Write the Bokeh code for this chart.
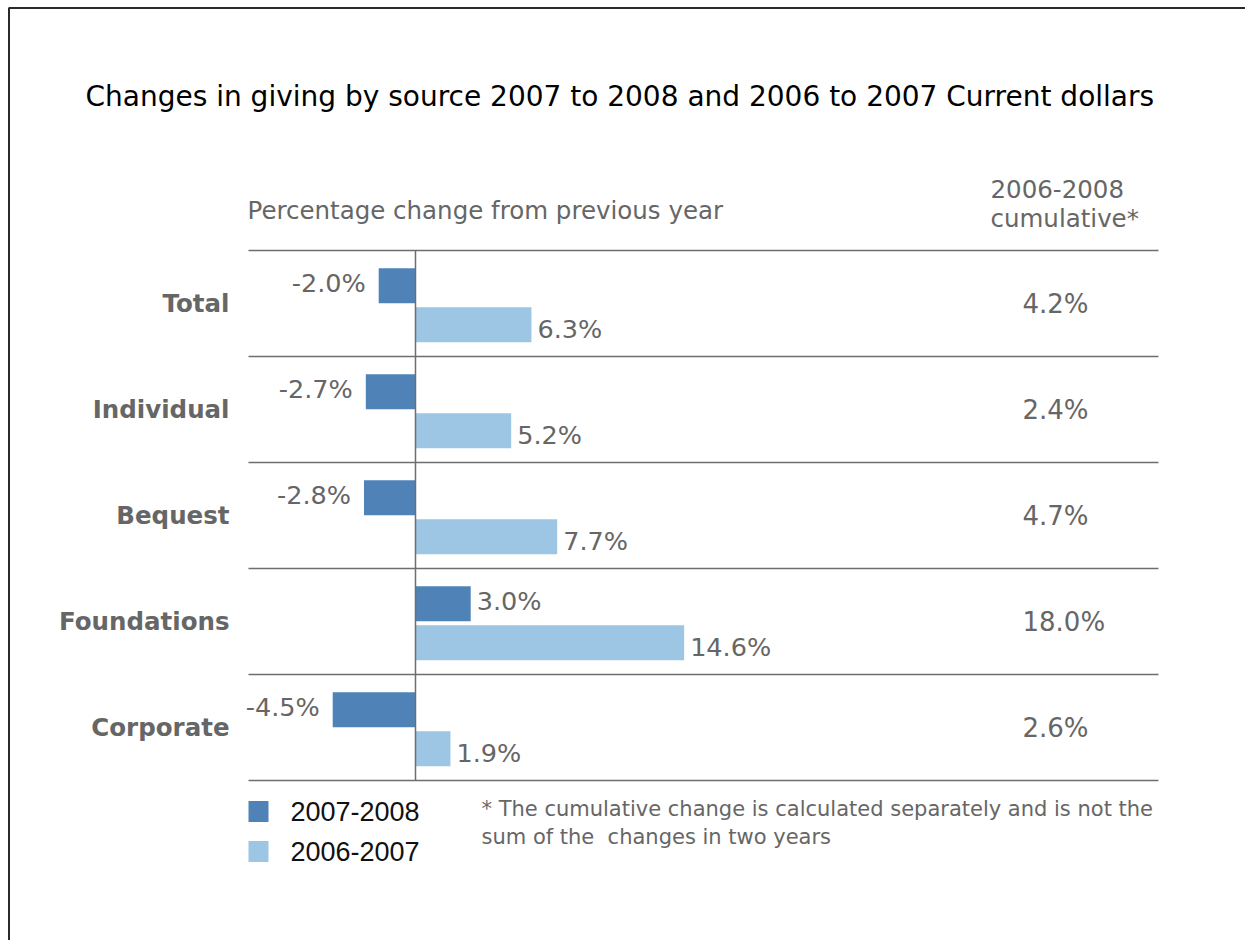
from bokeh.plotting import figure
from bokeh.models import Range1d, ColumnDataSource
from bokeh.embed import file_html
from bokeh.resources import INLINE
from bokeh.core.properties import value
import numpy as np

# ---- data ----
categories = ["Total", "Individual", "Bequest", "Foundations", "Corporate"]
change_2007_2008 = [-2.0, -2.7, -2.8, 3.0, -4.5]
change_2006_2007 = [6.3, 5.2, 7.7, 14.6, 1.9]
cumulative_2006_2008 = [4.2, 2.4, 4.7, 18.0, 2.6]
series_names = ["2007-2008", "2006-2007"]

title = "Changes in giving by source 2007 to 2008 and 2006 to 2007 Current dollars"
subtitle = "Percentage change from previous year"
cum_header = ["2006-2008", "cumulative*"]
footnote = ["* The cumulative change is calculated separately and is not the",
            "sum of the\u00a0 changes in two years"]

DARK = "#4f83b8"
LIGHT = "#9cc6e4"
GRAY = "#666666"
LINE = "#6e6e6e"
FONT = "DejaVu Sans"

W, H = 1245, 940
ZERO_PX, PX_PER_PCT = 415.0, 18.4
ROW0_PX, ROW_PX = 303.0, 106.0


def fx(px):
    return (px - ZERO_PX) / PX_PER_PCT


def fy(py):
    return (py - ROW0_PX) / ROW_PX


p = figure(width=W, height=H, output_backend="svg", toolbar_location=None,
           x_range=Range1d(fx(0), fx(W)), y_range=Range1d(fy(H), fy(0)),
           min_border=0)
p.axis.visible = False
p.grid.visible = False
p.outline_line_color = None
p.background_fill_color = "white"
p.border_fill_color = "white"

# frame border (partially cut off)
p.line(x=[fx(8.5), fx(8.5), fx(1260)], y=[fy(960), fy(7.5), fy(7.5)],
       line_color="#2a2a2a", line_width=2)

n = len(categories)
rows = np.arange(n)
d_off, l_off, bh = -0.168, 0.2, 0.33

src = ColumnDataSource(dict(
    row=rows, cat=categories,
    v1=change_2007_2008, v2=change_2006_2007, cum=cumulative_2006_2008,
    y1=rows + d_off, y2=rows + l_off,
    lab1=["%.1f%%" % v for v in change_2007_2008],
    lab2=["%.1f%%" % v for v in change_2006_2007],
    labc=["%.1f%%" % v for v in cumulative_2006_2008],
    al1=["right" if v < 0 else "left" for v in change_2007_2008],
    xo1=[-13 if v < 0 else 6 for v in change_2007_2008],
))

# separators
sep_y = np.arange(n + 1) - 0.5
p.multi_line(xs=[[fx(248), fx(1158)]] * (n + 1), ys=[[y, y] for y in sep_y],
             line_color=LINE, line_width=1.5)

# bars
p.hbar(y="y1", left=0, right="v1", height=bh, source=src, fill_color=DARK, line_color=None)
p.hbar(y="y2", left=0, right="v2", height=bh, source=src, fill_color=LIGHT, line_color=None)

# zero line
p.line(x=[0, 0], y=[sep_y[0], sep_y[-1]], line_color=LINE, line_width=1.5)

# value labels
p.text(x="v1", y="y1", text="lab1", source=src, text_align="al1", x_offset="xo1",
       y_offset=-3, text_baseline="middle", text_color=GRAY,
       text_font=value(FONT), text_font_size="25.5px")
p.text(x="v2", y="y2", text="lab2", source=src, text_align="left", x_offset=6,
       y_offset=4, text_baseline="middle", text_color=GRAY,
       text_font=value(FONT), text_font_size="25.5px")

# category labels
p.text(x=fx(229), y="row", text="cat", source=src, text_align="right",
       text_baseline="middle", text_color=GRAY, text_font_style="bold",
       text_font=value(FONT), text_font_size="24.5px")

# cumulative column
p.text(x=fx(1022), y="row", text="labc", source=src, text_align="left",
       text_baseline="middle", text_color=GRAY,
       text_font=value(FONT), text_font_size="26px")

# headers
p.text(x=[fx(85)], y=[fy(96)], text=[title], text_align="left", text_baseline="middle",
       text_color="#000000", text_font=value(FONT), text_font_size="28px",
       text_font_style="normal")
p.text(x=[fx(247)], y=[fy(210)], text=[subtitle], text_align="left", text_baseline="middle",
       text_color=GRAY, text_font=value(FONT), text_font_size="24.5px")
p.text(x=[fx(990)] * 2, y=[fy(188), fy(218)], text=cum_header, text_align="left",
       text_baseline="middle", text_color=GRAY, text_font=value(FONT), text_font_size="24.5px")

# legend
p.rect(x=[fx(258), fx(258)], y=[fy(811), fy(851)], width=20 / PX_PER_PCT, height=21 / ROW_PX,
       fill_color=[DARK, LIGHT], line_color=None)
p.text(x=[fx(290)] * 2, y=[fy(811), fy(851)], text=series_names, text_align="left",
       text_baseline="middle", text_color="#111111",
       text_font=value("Liberation Sans"), text_font_size="27px")

# footnote
p.text(x=[fx(481)] * 2, y=[fy(808), fy(836)], text=footnote, text_align="left",
       text_baseline="middle", text_color=GRAY, text_font=value(FONT), text_font_size="21px")

open("out.html", "w").write(file_html(p, INLINE))
